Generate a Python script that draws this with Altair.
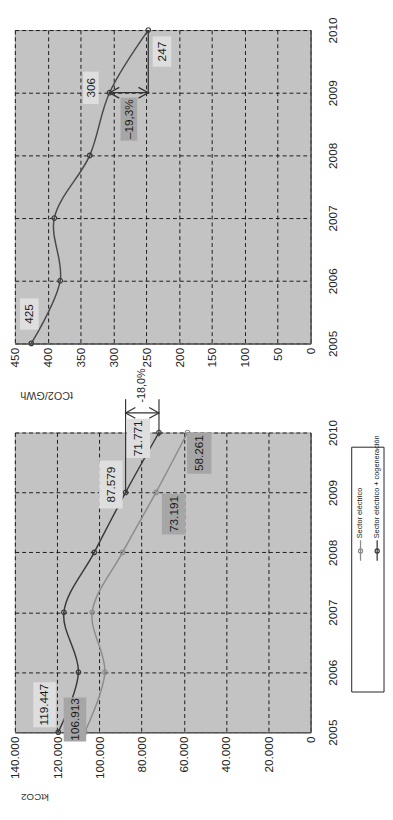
import altair as alt
import pandas as pd

# ---------------- data ----------------
years = [2005, 2006, 2007, 2008, 2009, 2010]
sector_cogen = [119447, 109900, 116800, 102400, 87579, 71771]   # ktCO2, Sector eléctrico + cogeneración
sector_elec = [106913, 97400, 103400, 89000, 73191, 58261]      # ktCO2, Sector eléctrico
intensity = [425, 381, 390, 336, 306, 247]                      # tCO2/GWh
series_names = ["Sector eléctrico", "Sector eléctrico + cogeneración"]
kt_ticks = [0, 20000, 40000, 60000, 80000, 100000, 120000, 140000]
t_ticks = [0, 50, 100, 150, 200, 250, 300, 350, 400, 450]
change_kt = "-18,0%"
change_t = "-19,3%"

# ---------------- styles ----------------
BG = "#c3c3c3"
LIGHT_BOX = "#dedede"
DARK_BOX = "#a6a6a6"
LINE_LIGHT = "#8c8c8c"
LINE_DARK = "#3a3a3a"
FONT = "Liberation Sans"
W = 302


def es(v):
    return f"{v:,}".replace(",", ".")


def box_shape(w, h):
    m = max(w, h)
    a, b = w / m, h / m
    return f"M{-a:.3f},{-b:.3f}L{a:.3f},{-b:.3f}L{a:.3f},{b:.3f}L{-a:.3f},{b:.3f}Z", m * m


def label(value, year, text, fill, dx, dy, w, h):
    d = pd.DataFrame({"value": [value], "year": [year], "txt": [text]})
    shape, size = box_shape(w, h)
    base = alt.Chart(d)
    box = base.mark_point(shape=shape, size=size, filled=True, color=fill,
                          opacity=1, strokeWidth=0, xOffset=dx, yOffset=dy).encode(
        x="value:Q", y="year:Q")
    txt = base.mark_text(angle=270, fontSize=12, font=FONT, color="#1a1a1a",
                         align="center", baseline="middle",
                         xOffset=dx, yOffset=dy).encode(x="value:Q", y="year:Q", text="txt:N")
    return [box, txt]


LEFT_HEAD = "M1,-0.55L0,0L1,0.55"
RIGHT_HEAD = "M-1,-0.55L0,0L-1,0.55"

GRID = dict(grid=True, gridDash=[4, 3], gridColor="#1a1a1a", gridWidth=1,
            domainColor="#555555", domainWidth=1.5, ticks=False, tickSize=0,
            labelOverlap=False, labelBound=False, labelFlush=False, tickCount=30)

# ---------------- top panel: tCO2/GWh ----------------
df_t = pd.DataFrame({"year": years, "value": intensity})

xt = alt.X("value:Q",
           scale=alt.Scale(domain=[0, 450], reverse=True, nice=False, zero=False),
           axis=alt.Axis(values=t_ticks, format="d",
                         labelAngle=270, labelAlign="right",
                         labelBaseline="middle", labelPadding=4,
                         title="tCO2/GWh", titleAngle=180, titleX=32, titleY=52,
                         titleAlign="center", titleBaseline="middle",
                         titleFont=FONT, titleFontSize=11, titleFontWeight="normal",
                         titleColor="#333333", **GRID))
yt = alt.Y("year:Q",
           scale=alt.Scale(domain=[2005, 2010], nice=False, zero=False),
           axis=alt.Axis(orient="right", values=years, format="d", labelAngle=270,
                         labelAlign="center", labelBaseline="top", labelPadding=17,
                         title=None, **GRID))

t_line = alt.Chart(df_t).mark_line(interpolate="catmull-rom", color="#4a4a4a",
                                   strokeWidth=1.5).encode(x=xt, y=yt, order="year:Q")
t_pts = alt.Chart(df_t).mark_point(filled=False, color="#3a3a3a", size=22,
                                   strokeWidth=1.2, opacity=1).encode(x="value:Q", y="year:Q")

a_t = pd.DataFrame({"value": [intensity[4]], "value2": [intensity[5]],
                    "year": [years[4]], "year2": [years[5]]})
t_vrule = alt.Chart(a_t).mark_rule(color="#333333", strokeWidth=1.3).encode(
    x="value2:Q", y="year:Q", y2="year2:Q")
t_hrule = alt.Chart(a_t).mark_rule(color="#333333", strokeWidth=1.3).encode(
    x="value:Q", x2="value2:Q", y="year:Q")
t_head1 = alt.Chart(a_t).mark_point(shape=LEFT_HEAD, size=400, filled=False, color="#333333",
                                    strokeWidth=1.3, opacity=1).encode(x="value:Q", y="year:Q")
t_head2 = alt.Chart(a_t).mark_point(shape=RIGHT_HEAD, size=400, filled=False, color="#333333",
                                    strokeWidth=1.3, opacity=1).encode(x="value2:Q", y="year:Q")

t_labels = (
    label(intensity[0], years[0], str(intensity[0]), LIGHT_BOX, -2, -30, 19, 32)
    + label(intensity[4], years[4], str(intensity[4]), LIGHT_BOX, -19, -5, 16, 33)
    + label(intensity[5], years[5], str(intensity[5]), LIGHT_BOX, 14, 22, 19, 31)
    + label((intensity[4] + intensity[5]) / 2, years[4], change_t.replace("-", "\u2013"),
            DARK_BOX, 0, 27, 17, 44)
)

top = alt.layer(t_line, t_vrule, t_hrule, t_head1, t_head2, t_pts, *t_labels).properties(
    width=W, height=320)

# ---------------- bottom panel: ktCO2 ----------------
df_kt = pd.DataFrame({
    "year": years * 2,
    "value": sector_elec + sector_cogen,
    "series": [series_names[0]] * 6 + [series_names[1]] * 6,
})

xk = alt.X("value:Q",
           scale=alt.Scale(domain=[0, 140000], reverse=True, nice=False, zero=False),
           axis=alt.Axis(values=kt_ticks,
                         labelExpr="replace(format(datum.value, ','), ',', '.')",
                         labelAngle=270, labelAlign="right",
                         labelBaseline="middle", labelPadding=4,
                         title="ktCO2", titleAngle=180, titleX=20, titleY=66,
                         titleAlign="center", titleBaseline="middle",
                         titleFont=FONT, titleFontSize=10, titleFontWeight="normal",
                         titleColor="#333333", **GRID))
yk = alt.Y("year:Q",
           scale=alt.Scale(domain=[2005, 2010], nice=False, zero=False),
           axis=alt.Axis(orient="right", values=years, format="d", labelAngle=270,
                         labelAlign="center", labelBaseline="top", labelPadding=17,
                         title=None, **GRID))
color = alt.Color("series:N", scale=alt.Scale(domain=series_names, range=[LINE_LIGHT, LINE_DARK]),
                  legend=None)

k_lines = alt.Chart(df_kt).mark_line(interpolate="catmull-rom", strokeWidth=1.5).encode(
    x=xk, y=yk, color=color, order="year:Q")
k_pts = alt.Chart(df_kt).mark_point(filled=False, size=22, strokeWidth=1.2, opacity=1).encode(
    x="value:Q", y="year:Q", color=color)

a_k = pd.DataFrame({"value": [sector_cogen[4]], "value2": [sector_cogen[5]],
                    "year": [years[4]], "year2": [years[5]],
                    "mid": [(sector_cogen[4] + sector_cogen[5]) / 2], "txt": [change_kt]})
k_v1 = alt.Chart(a_k).mark_rule(color="#333333", strokeWidth=1.2).encode(
    x="value:Q", y="year:Q", y2=alt.value(-34))
k_v2 = alt.Chart(a_k).mark_rule(color="#333333", strokeWidth=1.2).encode(
    x="value2:Q", y=alt.value(4), y2=alt.value(-34))
k_h = alt.Chart(a_k).mark_rule(color="#333333", strokeWidth=1.2).encode(
    x="value:Q", x2="value2:Q", y=alt.value(-20))
k_hd1 = alt.Chart(a_k).mark_point(shape=LEFT_HEAD, size=400, filled=False, color="#333333",
                                  strokeWidth=1.2, opacity=1).encode(x="value:Q", y=alt.value(-20))
k_hd2 = alt.Chart(a_k).mark_point(shape=RIGHT_HEAD, size=400, filled=False, color="#333333",
                                  strokeWidth=1.2, opacity=1).encode(x="value2:Q", y=alt.value(-20))
k_txt = alt.Chart(a_k).mark_text(angle=270, fontSize=11, font=FONT, color="#1a1a1a",
                                 align="center", baseline="middle").encode(
    x="mid:Q", y=alt.value(-48), text="txt:N")

k_labels = (
    label(sector_cogen[0], years[0], es(sector_cogen[0]), LIGHT_BOX, -14, -28, 23, 46)
    + label(sector_elec[0], years[0], es(sector_elec[0]), DARK_BOX, -10, -13, 23, 45)
    + label(sector_cogen[4], years[4], es(sector_cogen[4]), LIGHT_BOX, -15, -8, 24, 49)
    + label(sector_cogen[5], years[5], es(sector_cogen[5]), LIGHT_BOX, -21, 6, 24, 40)
    + label(sector_elec[4], years[4], es(sector_elec[4]), DARK_BOX, 18, 22, 24, 42)
    + label(sector_elec[5], years[5], es(sector_elec[5]), DARK_BOX, 12, 21, 25, 42)
)

# legend (drawn by hand, rotated like the rest of the figure)
legend_layers = []
one = pd.DataFrame({"k": [0]})
legend_layers.append(alt.Chart(one).mark_rect(fill="white", stroke="#222222", strokeWidth=1).encode(
    x=alt.value(344), x2=alt.value(377), y=alt.value(15), y2=alt.value(265)))
for name, col, xpos in zip(series_names, [LINE_LIGHT, LINE_DARK], [353, 370]):
    d = pd.DataFrame({"series": [name]})
    legend_layers.append(alt.Chart(d).mark_rule(strokeWidth=1.3, color=col).encode(
        x=alt.value(xpos), y=alt.value(110), y2=alt.value(131)))
    legend_layers.append(alt.Chart(d).mark_point(filled=False, size=18, strokeWidth=1.2,
                                                 opacity=1, color=col).encode(
        x=alt.value(xpos), y=alt.value(121)))
    legend_layers.append(alt.Chart(d).mark_text(angle=270, fontSize=7.5, font=FONT,
                                                color="#1a1a1a", align="left",
                                                baseline="middle").encode(
        x=alt.value(xpos), y=alt.value(108), text="series:N"))

bottom = alt.layer(
    k_lines, k_v1, k_v2, k_h, k_hd1, k_hd2, k_txt, k_pts, *k_labels, *legend_layers
).properties(width=W, height=306)

chart = alt.vconcat(top, bottom, spacing=91, bounds="flush").properties(
    padding=0
).configure_view(fill=BG, stroke="#9a9a9a", strokeWidth=1).configure_axis(
    labelFont=FONT, labelFontSize=12, labelColor="#222222", labelOverlap=False
)

chart.save("out.html", embed_options={"renderer": "svg", "actions": False})
